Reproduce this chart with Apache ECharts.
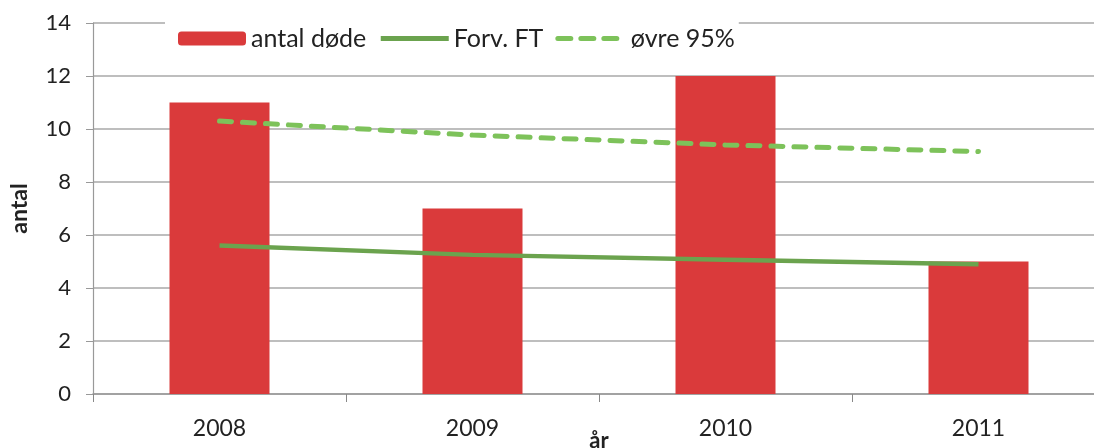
<!DOCTYPE html>
<html><head><meta charset="utf-8">
<script src="https://cdn.jsdelivr.net/npm/echarts@6/dist/echarts.min.js"></script>
<style>html,body{margin:0;padding:0;background:#fff}#c{width:1094px;height:448px}</style>
</head><body><div id="c"></div>
<script>
const categories = ['2008', '2009', '2010', '2011'];
const antalDode = [11, 7, 12, 5];
const forvFT = [5.6, 5.25, 5.07, 4.9];
const ovre95 = [10.3, 9.77, 9.4, 9.15];
const yMin = 0, yMax = 14, yInterval = 2;
const seriesNames = ['antal døde', 'Forv. FT', 'øvre 95%'];

const FONT = 'Lato';
const RED = '#da3a3b', GREEN = '#6ba34e', LIGHTGREEN = '#7dc25a';
const chart = echarts.init(document.getElementById('c'), null, {renderer: 'canvas'});
chart.setOption({
  animation: false,
  backgroundColor: '#ffffff',
  grid: {left: 93, right: -11, top: 23, bottom: 54, containLabel: false, outerBoundsMode: 'none'},
  legend: {
    data: [
      {name: seriesNames[0]},
      {name: seriesNames[1], itemStyle: {opacity: 0}, lineStyle: {width: 5, color: GREEN}},
      {name: seriesNames[2], itemStyle: {opacity: 0}, lineStyle: {width: 5, color: LIGHTGREEN, type: [13, 10], cap: 'round'}}
    ],
    left: 165, top: 19,
    padding: [7, 4, 8, 13],
    itemWidth: 68, itemHeight: 14, itemGap: 12,
    backgroundColor: '#ffffff',
    textStyle: {fontFamily: FONT, fontSize: 25, color: '#222'}
  },
  xAxis: {
    type: 'category', data: categories,
    name: 'år', nameLocation: 'middle', nameGap: 36, nameMoveOverlap: false,
    nameTextStyle: {fontFamily: FONT, fontSize: 22, fontWeight: 'bold', color: '#222'},
    axisLine: {show: true, lineStyle: {color: '#999', width: 1.5}},
    axisTick: {show: true, alignWithLabel: false, length: 8, lineStyle: {color: '#888'}},
    axisLabel: {fontFamily: FONT, fontSize: 23, color: '#222', margin: 23}
  },
  yAxis: {
    type: 'value', min: yMin, max: yMax, interval: yInterval,
    name: 'antal', nameLocation: 'middle', nameGap: 62, nameRotate: 90, nameMoveOverlap: false,
    nameTextStyle: {fontFamily: FONT, fontSize: 23, fontWeight: 'bold', color: '#222'},
    axisLine: {show: true, lineStyle: {color: '#999', width: 1.2}},
    axisTick: {show: true, length: 7, lineStyle: {color: '#999'}},
    axisLabel: {fontFamily: FONT, fontSize: 22, color: '#222', margin: 22},
    splitLine: {show: true, lineStyle: {color: '#a8a8a8', width: 1.5}}
  },
  series: [
    {name: seriesNames[0], type: 'bar', data: antalDode, barWidth: 100,
     itemStyle: {color: RED}, z: 2},
    {name: seriesNames[1], type: 'line', data: forvFT, symbol: 'none',
     lineStyle: {color: GREEN, width: 4.5}, itemStyle: {color: GREEN}, z: 3},
    {name: seriesNames[2], type: 'line', data: ovre95, symbol: 'none',
     lineStyle: {color: LIGHTGREEN, width: 5, type: [12, 11], cap: 'round'}, itemStyle: {color: LIGHTGREEN}, z: 3}
  ]
});
</script>
</body></html>
